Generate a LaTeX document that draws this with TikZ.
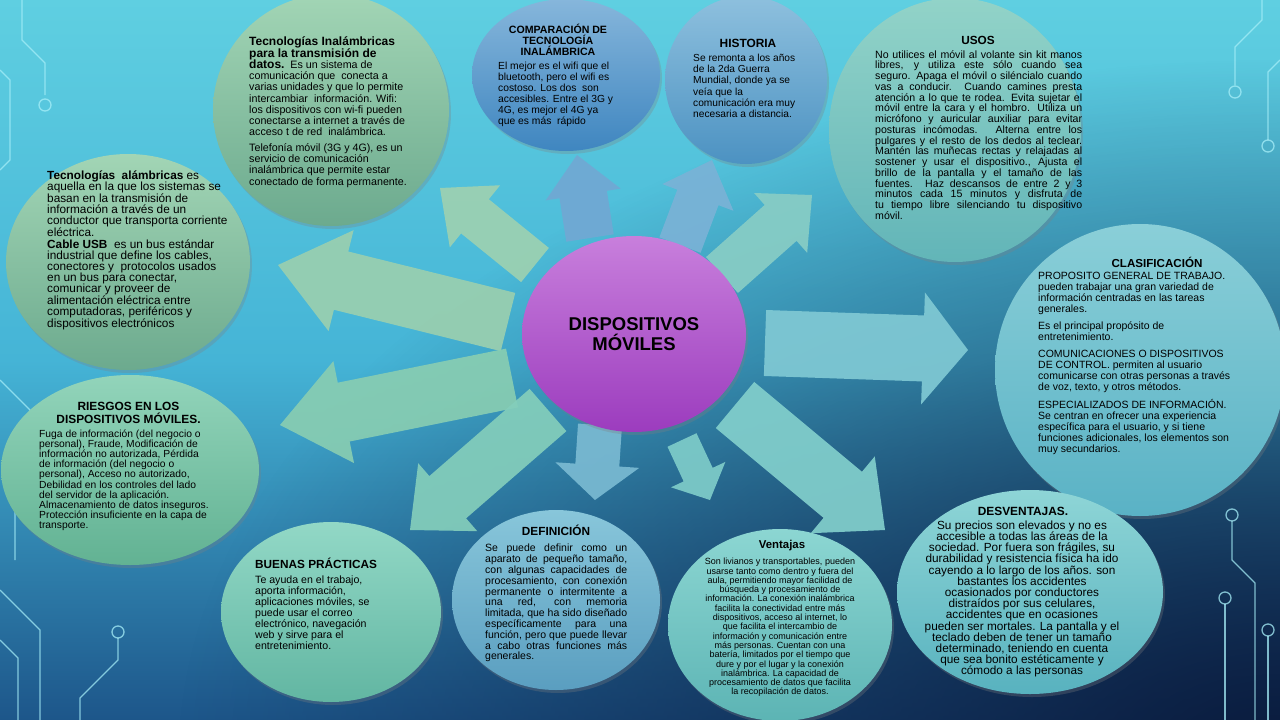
\documentclass[tikz,border=0pt]{standalone}
\usepackage{fontspec}
\setmainfont{Liberation Sans}
\usetikzlibrary{calc,shadows,fadings,shapes.geometric}
\definecolor{bgtop}{HTML}{5FCFE1}
\definecolor{bgmid}{HTML}{45B4D6}
\definecolor{bgbot}{HTML}{1D568A}
\definecolor{bgdark}{HTML}{0A1A3C}
\definecolor{circ}{HTML}{A6EEF8}
\definecolor{gA}{HTML}{A2D5B5}\definecolor{gB}{HTML}{6CAA8E}
\definecolor{bA}{HTML}{86B6DB}\definecolor{bB}{HTML}{3F86C0}
\definecolor{hA}{HTML}{8EC0DE}\definecolor{hB}{HTML}{4C92C2}
\definecolor{tA}{HTML}{92D3C8}\definecolor{tB}{HTML}{62B5B8}
\definecolor{cA}{HTML}{8ACFD8}\definecolor{cB}{HTML}{5AB2C5}
\definecolor{rA}{HTML}{92D4BA}\definecolor{rB}{HTML}{62B293}
\definecolor{pA}{HTML}{92D8C6}\definecolor{pB}{HTML}{62B6A2}
\definecolor{dA}{HTML}{88C6DA}\definecolor{dB}{HTML}{5A9EC0}
\definecolor{vA}{HTML}{8CD6D2}\definecolor{vB}{HTML}{5CB4B4}
\definecolor{wA}{HTML}{8ED5D6}\definecolor{wB}{HTML}{58B2BF}
\definecolor{mA}{HTML}{C87FDC}\definecolor{mB}{HTML}{9C3CBE}
\tikzfading[name=brfade, inner color=transparent!0, outer color=transparent!100]
\newcommand\blockarrow[6][]{%
  \coordinate (bah) at ($(#3)!#6!(#2)$);
  \fill[#1] ($(#2)!#4!90:(#3)$) -- ($(bah)!#4!90:(#3)$) -- ($(bah)!#5!90:(#3)$) -- (#3)
    -- ($(bah)!#5!-90:(#3)$) -- ($(bah)!#4!-90:(#3)$) -- ($(#2)!#4!-90:(#3)$) -- cycle;}
\tikzset{
  bub/.style={ellipse, inner sep=0pt, drop shadow={opacity=0.3, shadow xshift=2pt, shadow yshift=-3pt}},
  txt/.style={inner sep=0pt, anchor=north west, align=left, text=black},
  ttl/.style={inner sep=0pt, anchor=north, align=center, text=black, font=\fontsize{11.8}{13}\selectfont\bfseries},
  arr/.style={fill=#1, fill opacity=0.92},
  circuit/.style={draw=circ, line width=1.3pt, draw opacity=0.75},
}
\begin{document}
\begin{tikzpicture}[x=1pt,y=-1pt]
\useasboundingbox (0,0) rectangle (1280,720);
% background
\shade[top color=bgtop, bottom color=bgbot, middle color=bgmid] (0,0) rectangle (1280,720);
\begin{scope}
  \clip (0,0) rectangle (1280,720);
  \fill[bgdark, path fading=brfade, fit fading=true] (1280,760) ellipse (1100 and 700);
\end{scope}
% circuit traces (left)
\draw[circuit] (22,0) -- (22,40) -- (45,63) -- (45,95);
\draw[circuit] (45,105) circle (6);
\draw[circuit] (0,70) -- (10,80) -- (10,160) -- (0,170);
\draw[circuit] (0,380) -- (30,410) -- (30,470) -- (15,485) -- (15,560);
\draw[circuit] (0,590) -- (40,630) -- (40,720);
\draw[circuit] (0,640) -- (18,658) -- (18,720);
\draw[circuit] (118,632) circle (6);
\draw[circuit] (118,638) -- (118,660) -- (80,698) -- (80,720);
% circuit traces (right)
\draw[circuit] (1262,0) -- (1262,20) -- (1235,47) -- (1235,85);
\draw[circuit] (1235,92) circle (6);
\draw[circuit] (1280,60) -- (1268,72) -- (1268,140);
\draw[circuit] (1268,146) circle (6);
\draw[circuit] (1232,515) circle (6);
\draw[circuit] (1232,521) -- (1232,560) -- (1255,583) -- (1255,720);
\draw[circuit] (1225,598) circle (6);
\draw[circuit] (1225,604) -- (1225,720);
\draw[circuit] (1268,630) circle (6);
\draw[circuit] (1268,636) -- (1268,720);
% bubbles
\node[bub, top color=gA, bottom color=gB, minimum width=236pt, minimum height=232pt] (ti) at (331,110) {};
\node[bub, top color=bA, bottom color=bB, minimum width=188pt, minimum height=152pt] (co) at (566,75) {};
\node[bub, top color=hA, bottom color=hB, minimum width=162pt, minimum height=168pt] (hi) at (746,80) {};
\node[bub, top color=tA, bottom color=tB, minimum width=252pt, minimum height=264pt] (us) at (955,130) {};
\node[bub, top color=gA, bottom color=gB, minimum width=244pt, minimum height=216pt] (ta) at (128,262) {};
\node[bub, top color=cA, bottom color=cB, minimum width=290pt, minimum height=292pt] (cl) at (1140,370) {};
\node[bub, top color=rA, bottom color=rB, minimum width=258pt, minimum height=190pt] (ri) at (130,470) {};
\node[bub, top color=pA, bottom color=pB, minimum width=220pt, minimum height=180pt] (bp) at (331,612) {};
\node[bub, top color=dA, bottom color=dB, minimum width=208pt, minimum height=180pt] (de) at (556,600) {};
\node[bub, top color=vA, bottom color=vB, minimum width=224pt, minimum height=192pt] (ve) at (780,625) {};
\node[bub, top color=wA, bottom color=wB, minimum width=266pt, minimum height=204pt] (dv) at (1030,592) {};
% arrows
\coordinate (s1) at (535,265); \coordinate (e1) at (440,188);
\coordinate (s2) at (590,238); \coordinate (e2) at (577,155);
\coordinate (s3) at (680,245); \coordinate (e3) at (712,160);
\coordinate (s4) at (722,275); \coordinate (e4) at (812,195);
\coordinate (s5) at (765,343); \coordinate (e5) at (968,350);
\coordinate (s6) at (508,322); \coordinate (e6) at (278,265);
\coordinate (s7) at (512,378); \coordinate (e7) at (280,425);
\coordinate (s8) at (548,410); \coordinate (e8) at (410,530);
\coordinate (s9) at (600,425); \coordinate (e9) at (595,500);
\coordinate (s10) at (682,440); \coordinate (e10) at (710,500);
\coordinate (s11) at (735,405); \coordinate (e11) at (885,530);
\blockarrow[arr=gA!90!gB]{s1}{e1}{22pt}{40pt}{45pt}
\blockarrow[arr=bA!70!bB]{s2}{e2}{24pt}{38pt}{40pt}
\blockarrow[arr=hA!70!hB]{s3}{e3}{22pt}{38pt}{40pt}
\blockarrow[arr=tA!80!tB]{s4}{e4}{24pt}{40pt}{42pt}
\blockarrow[arr=cA!80!cB]{s5}{e5}{33pt}{56pt}{45pt}
\blockarrow[arr=gA!85!gB]{s6}{e6}{30pt}{52pt}{65pt}
\blockarrow[arr=rA!80!rB]{s7}{e7}{30pt}{52pt}{65pt}
\blockarrow[arr=pA!70!pB]{s8}{e8}{28pt}{45pt}{50pt}
\blockarrow[arr=dA!70!dB]{s9}{e9}{22pt}{42pt}{35pt}
\blockarrow[arr=vA!70!vB]{s10}{e10}{16pt}{30pt}{28pt}
\blockarrow[arr=vA!80!vB]{s11}{e11}{30pt}{50pt}{55pt}
% centre
\node[bub, top color=mA, bottom color=mB, minimum width=224pt, minimum height=196pt, align=center,
  font=\fontsize{18.5}{20}\selectfont\bfseries] (ce) at (634,334) {DISPOSITIVOS\\MÓVILES};
% texts
\node[txt, font=\fontsize{10.7}{11.2}\selectfont] (tiT) at (249,36) {%
{\fontsize{12}{11.2}\selectfont\bfseries Tecnologías Inalámbricas}\\
{\fontsize{12}{11.2}\selectfont\bfseries para la transmisión de}\\
{\fontsize{12}{11.2}\selectfont\bfseries datos.}\ \ Es un sistema de\\
comunicación que\ \ conecta a\\
varias unidades y que lo permite\\
intercambiar\ \ información. Wifi:\\
los dispositivos con wi-fi pueden\\
conectarse a internet a través de\\
acceso t de red\ \ inalámbrica.\\[4.5pt]
Telefonía móvil (3G y 4G), es un\\
servicio de comunicación\\
inalámbrica que permite estar\\
conectado de forma permanente.};
\node[ttl, font=\fontsize{10.6}{11.3}\selectfont\bfseries] (coT) at (558,23.5) {COMPARACIÓN DE\\TECNOLOGÍA\\INALÁMBRICA};
\node[txt, font=\fontsize{10.3}{11}\selectfont] (coB) at (498,61.5) {%
El mejor es el wifi que el\\
bluetooth, pero el wifi es\\
costoso. Los dos\ \ son\\
accesibles. Entre el 3G y\\
4G, es mejor el 4G ya\\
que es más\ \ rápido};
\node[ttl, font=\fontsize{11.9}{13}\selectfont\bfseries] (hiT) at (748,38.5) {HISTORIA};
\node[txt, font=\fontsize{10.2}{11.2}\selectfont] (hiB) at (693,54) {%
Se remonta a los años\\
de la 2da Guerra\\
Mundial, donde ya se\\
veía que la\\
comunicación era muy\\
necesaria a distancia.};
\node[ttl] (usT) at (978,36.5) {USOS};
\node[inner sep=0pt, anchor=north west, text width=207pt, align=justify, font=\fontsize{10.6}{10.75}\selectfont] (usB) at (875,50) {%
No utilices el móvil al volante sin kit manos\linebreak
libres, y utiliza este sólo cuando sea\linebreak
seguro. Apaga el móvil o siléncialo cuando\linebreak
vas a conducir. Cuando camines presta\linebreak
atención a lo que te rodea. Evita sujetar el\linebreak
móvil entre la cara y el hombro. Utiliza un\linebreak
micrófono y auricular auxiliar para evitar\linebreak
posturas incómodas. Alterna entre los\linebreak
pulgares y el resto de los dedos al teclear.\linebreak
Mantén las muñecas rectas y relajadas al\linebreak
sostener y usar el dispositivo., Ajusta el\linebreak
brillo de la pantalla y el tamaño de las\linebreak
fuentes. Haz descansos de entre 2 y 3\linebreak
minutos cada 15 minutos y disfruta de\linebreak
tu tiempo libre silenciando tu dispositivo\linebreak
móvil.};
\node[txt, font=\fontsize{11.8}{11.1}\selectfont] (taB) at (47,170.5) {%
\textbf{Tecnologías\ \ alámbricas} es\\
aquella en la que los sistemas se\\
basan en la transmisión de\\
información a través de un\\
conductor que transporta corriente\\
eléctrica.\\
\textbf{Cable USB}\ \ es un bus estándar\\
industrial que define los cables,\\
conectores y\ \ protocolos usados\\
en un bus para conectar,\\
comunicar y proveer de\\
alimentación eléctrica entre\\
computadoras, periféricos y\\
dispositivos electrónicos};
\node[ttl, font=\fontsize{11.6}{13}\selectfont\bfseries] (clT) at (1157,257) {CLASIFICACIÓN};
\node[txt, font=\fontsize{10.5}{11.1}\selectfont] (clB) at (1038,272) {%
PROPOSITO GENERAL DE TRABAJO.\\
pueden trabajar una gran variedad de\\
información centradas en las tareas\\
generales.\\[5.5pt]
Es el principal propósito de\\
entretenimiento.\\[5.5pt]
COMUNICACIONES O DISPOSITIVOS\\
DE CONTROL. permiten al usuario\\
comunicarse con otras personas a través\\
de voz, texto, y otros métodos.\\[5.5pt]
ESPECIALIZADOS DE INFORMACIÓN.\\
Se centran en ofrecer una experiencia\\
específica para el usuario, y si tiene\\
funciones adicionales, los elementos son\\
muy secundarios.};
\node[ttl, font=\fontsize{11.9}{13}\selectfont\bfseries] (riT) at (128.5,401.5) {RIESGOS EN LOS\\DISPOSITIVOS MÓVILES.};
\node[txt, font=\fontsize{10.3}{10.2}\selectfont] (riB) at (39,429.3) {%
Fuga de información (del negocio o\\
personal), Fraude, Modificación de\\
información no autorizada, Pérdida\\
de información (del negocio o\\
personal), Acceso no autorizado,\\
Debilidad en los controles del lado\\
del servidor de la aplicación.\\
Almacenamiento de datos inseguros.\\
Protección insuficiente en la capa de\\
transporte.};
\node[txt, font=\fontsize{11.8}{13}\selectfont\bfseries] (bpT) at (255,557.5) {BUENAS PRÁCTICAS};
\node[txt, font=\fontsize{10.6}{11}\selectfont] (bpB) at (255,575.7) {%
Te ayuda en el trabajo,\\
aporta información,\\
aplicaciones móviles, se\\
puede usar el correo\\
electrónico, navegación\\
web y sirve para el\\
entretenimiento.};
\node[ttl] (deT) at (556,525.3) {DEFINICIÓN};
\node[inner sep=0pt, anchor=north west, text width=142pt, align=justify, font=\fontsize{10.5}{10.8}\selectfont] (deB) at (485,544) {%
Se puede definir como un\linebreak
aparato de pequeño tamaño,\linebreak
con algunas capacidades de\linebreak
procesamiento, con conexión\linebreak
permanente o intermitente a\linebreak
una red, con memoria\linebreak
limitada, que ha sido diseñado\linebreak
específicamente para una\linebreak
función, pero que puede llevar\linebreak
a cabo otras funciones más\linebreak
generales.};
\node[ttl, font=\fontsize{11.4}{13}\selectfont\bfseries] (veT) at (782,540.3) {Ventajas};
\node[inner sep=0pt, anchor=north, align=center, font=\fontsize{9}{9.3}\selectfont] (veB) at (780,558) {%
Son livianos y transportables, pueden\\
usarse tanto como dentro y fuera del\\
aula, permitiendo mayor facilidad de\\
búsqueda y procesamiento de\\
información. La conexión inalámbrica\\
facilita la conectividad entre más\\
dispositivos, acceso al internet, lo\\
que facilita el intercambio de\\
información y comunicación entre\\
más personas. Cuentan con una\\
batería, limitados por el tiempo que\\
dure y por el lugar y la conexión\\
inalámbrica. La capacidad de\\
procesamiento de datos que facilita\\
la recopilación de datos.};
\node[ttl, font=\fontsize{11.9}{13}\selectfont\bfseries] (dvT) at (1023,506.5) {DESVENTAJAS.};
\node[inner sep=0pt, anchor=north, align=center, font=\fontsize{11.8}{11.2}\selectfont] (dvB) at (1022,520.5) {%
Su precios son elevados y no es\\
accesible a todas las áreas de la\\
sociedad. Por fuera son frágiles, su\\
durabilidad y resistencia física ha ido\\
cayendo a lo largo de los años. son\\
bastantes los accidentes\\
ocasionados por conductores\\
distraídos por sus celulares,\\
accidentes que en ocasiones\\
pueden ser mortales. La pantalla y el\\
teclado deben de tener un tamaño\\
determinado, teniendo en cuenta\\
que sea bonito estéticamente y\\
cómodo a las personas};
\end{tikzpicture}
\end{document}
